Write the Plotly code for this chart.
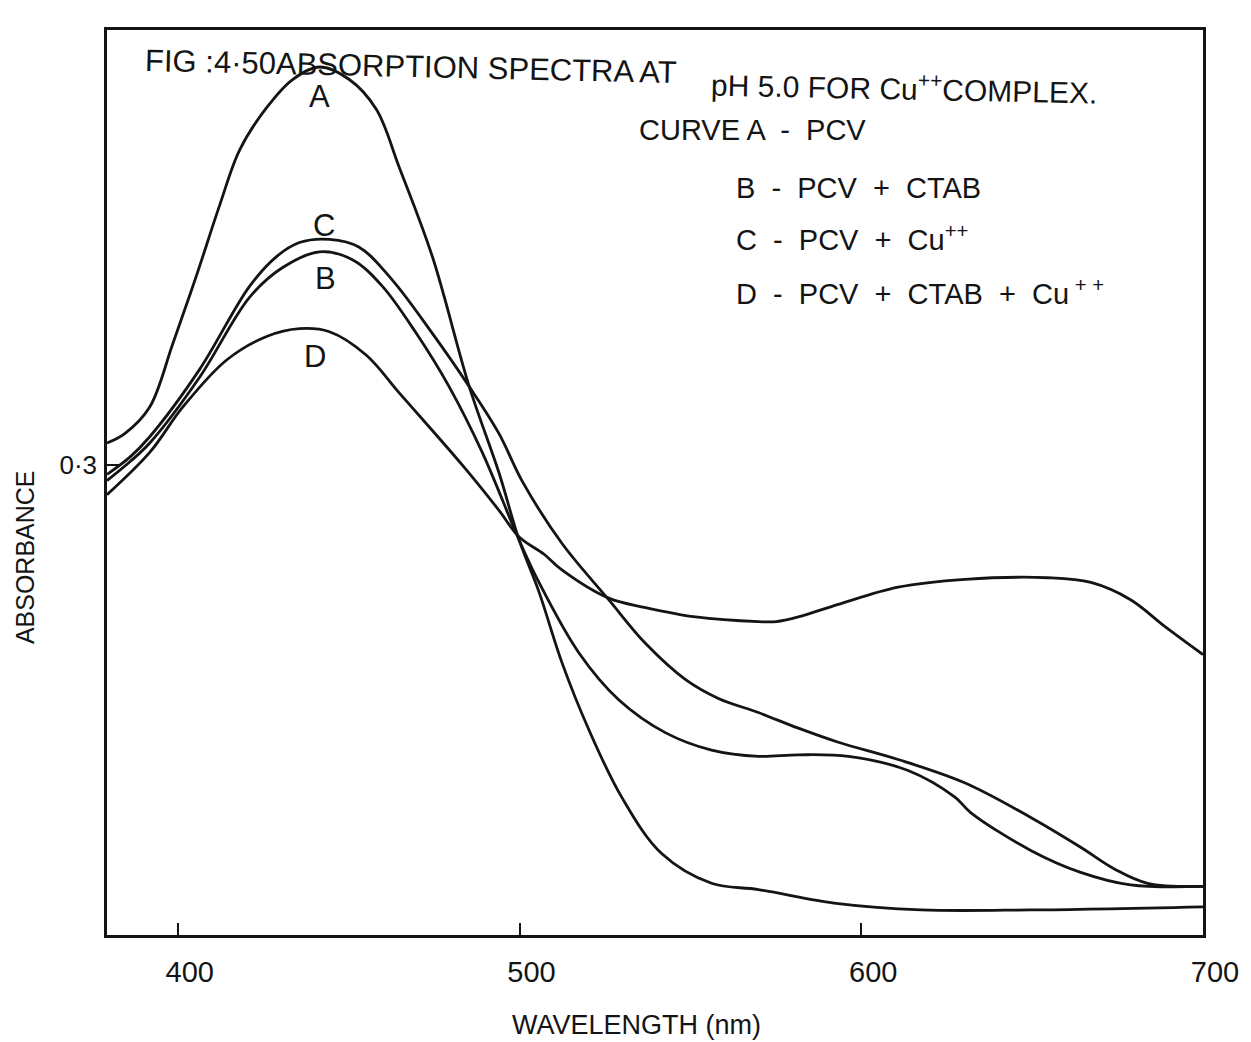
import plotly.graph_objects as go

# ---- data ----
wl_A = [379.3, 384.5, 391.8, 398.5, 405.5, 412.3, 418.1, 426.0, 433.6, 441.5, 450.2, 458.1,
        464.8, 474.5, 485.3, 494.0, 499.9, 505.7, 512.4, 520.3, 529.9, 541.6, 556.2, 569.9,
        593.3, 617.5, 649.6, 700.0]
abs_A = [0.314, 0.320, 0.337, 0.377, 0.421, 0.466, 0.501, 0.528, 0.546, 0.554, 0.546, 0.527,
         0.490, 0.433, 0.350, 0.295, 0.252, 0.219, 0.174, 0.131, 0.088, 0.052, 0.033, 0.029,
         0.020, 0.016, 0.016, 0.018]

wl_B = [379.3, 386.0, 391.8, 406.4, 421.0, 430.7, 441.5, 451.1, 459.9, 469.8, 479.4, 489.1,
        499.9, 505.7, 517.4, 529.1, 542.8, 556.2, 569.9, 581.6, 596.2, 613.7, 627.4, 632.1,
        649.6, 664.2, 678.8, 700.0]
abs_B = [0.290, 0.302, 0.314, 0.356, 0.407, 0.426, 0.436, 0.431, 0.414, 0.384, 0.350, 0.308,
         0.252, 0.225, 0.180, 0.150, 0.129, 0.118, 0.114, 0.115, 0.114, 0.105, 0.088, 0.078,
         0.054, 0.040, 0.032, 0.031]

wl_C = [379.3, 386.0, 391.8, 406.4, 421.0, 428.9, 435.6, 444.4, 453.1, 462.8, 474.5, 485.3,
        494.0, 500.7, 512.4, 526.1, 536.9, 548.6, 558.2, 569.9, 581.6, 593.3, 610.8, 630.4,
        649.6, 664.2, 674.2, 683.8, 700.0]
abs_C = [0.294, 0.305, 0.318, 0.361, 0.414, 0.433, 0.442, 0.444, 0.439, 0.418, 0.384, 0.350,
         0.320, 0.290, 0.250, 0.214, 0.186, 0.163, 0.151, 0.142, 0.132, 0.123, 0.112, 0.097,
         0.075, 0.056, 0.042, 0.033, 0.031]

wl_D = [379.3, 391.8, 401.5, 414.3, 426.0, 435.6, 444.4, 455.2, 464.8, 474.5, 484.4, 494.0,
        499.9, 507.2, 512.4, 526.1, 536.9, 551.5, 569.9, 575.2, 581.6, 593.3, 610.8, 630.4,
        654.6, 667.2, 678.8, 688.8, 700.0]
abs_D = [0.281, 0.308, 0.337, 0.367, 0.382, 0.387, 0.385, 0.370, 0.346, 0.322, 0.297, 0.271,
         0.254, 0.243, 0.233, 0.215, 0.209, 0.203, 0.200, 0.200, 0.203, 0.211, 0.222, 0.227,
         0.228, 0.225, 0.214, 0.197, 0.179]

curve_names = ["A", "B", "C", "D"]
label_wl = [441.5, 443.2, 442.9, 440.3]
label_abs = [0.535, 0.419, 0.453, 0.369]

x_ticks = [400, 500, 600, 700]
x_ticktext = ["400", "500", "600", "700"]
y_ticks = [0.3]
y_ticktext = ["0·3"]

title_part1 = "FIG :4·50ABSORPTION SPECTRA AT"
title_part2 = "pH 5.0 FOR Cu<sup>++</sup>COMPLEX."
legend_lines = [
    "CURVE A  -  PCV",
    "B  -  PCV  +  CTAB",
    "C  -  PCV  +  Cu<sup>++</sup>",
    "D  -  PCV  +  CTAB  +  Cu<sup> + +</sup>",
]

FONT = "Liberation Sans, Arial, Helvetica, sans-serif"
INK = "#141414"

fig = go.Figure()
for wl, ab in [(wl_A, abs_A), (wl_B, abs_B), (wl_C, abs_C), (wl_D, abs_D)]:
    fig.add_trace(go.Scatter(
        x=wl, y=ab, mode="lines",
        line=dict(color=INK, width=2.8, shape="spline", smoothing=1.0),
        showlegend=False, hoverinfo="skip"))

# curve letters in data coordinates
for name, xv, yv in zip(curve_names, label_wl, label_abs):
    fig.add_annotation(x=xv, y=yv, xref="x", yref="y", text=name, showarrow=False,
                       font=dict(family=FONT, size=31, color=INK))

# title (two pieces, slightly tilted like the hand lettering)
fig.add_annotation(x=0.0328, y=0.960, xref="paper", yref="paper", xanchor="left",
                   yanchor="middle", text=title_part1, showarrow=False, textangle=1.3,
                   font=dict(family=FONT, size=31, color=INK))
fig.add_annotation(x=0.549, y=0.937, xref="paper", yref="paper", xanchor="left",
                   yanchor="middle", text=title_part2, showarrow=False, textangle=1.2,
                   font=dict(family=FONT, size=30, color=INK))

# legend text lines
legend_pos = [(0.4836, 0.8895), (0.572, 0.8254), (0.572, 0.770), (0.572, 0.7105)]
for txt, (px, py) in zip(legend_lines, legend_pos):
    fig.add_annotation(x=px, y=py, xref="paper", yref="paper", xanchor="left",
                       yanchor="middle", text=txt, showarrow=False,
                       font=dict(family=FONT, size=29, color=INK))

# axis titles
fig.add_annotation(x=-0.0747, y=0.4177, xref="paper", yref="paper", xanchor="center",
                   yanchor="middle", text="ABSORBANCE", showarrow=False, textangle=-90,
                   font=dict(family=FONT, size=25, color=INK))
fig.add_annotation(x=0.4827, y=-0.0994, xref="paper", yref="paper", xanchor="center",
                   yanchor="middle", text="WAVELENGTH (nm)", showarrow=False,
                   font=dict(family=FONT, size=27, color=INK))

fig.update_xaxes(range=[379.3, 700], tickvals=x_ticks, ticktext=x_ticktext,
                 ticks="inside", ticklen=12, tickwidth=2, tickcolor=INK,
                 showline=True, linecolor=INK, linewidth=2.5, mirror=True,
                 showgrid=False, zeroline=False, ticklabelstandoff=9, ticklabelshift=12,
                 ticklabeloverflow="allow",
                 tickfont=dict(family=FONT, size=29, color=INK))
fig.update_yaxes(range=[0.0, 0.5776], tickvals=y_ticks, ticktext=y_ticktext,
                 ticks="inside", ticklen=12, tickwidth=2, tickcolor=INK,
                 showline=True, linecolor=INK, linewidth=2.5, mirror=True,
                 showgrid=False, zeroline=False, ticklabelstandoff=2,
                 tickfont=dict(family=FONT, size=26, color=INK))

# the page body keeps its default 8px margin, so the figure is sized to end at the window edge
fig.update_layout(width=1243, height=1034, paper_bgcolor="white", plot_bgcolor="white",
                  margin=dict(l=99, r=46, t=22, b=107), showlegend=False)

fig.write_html("out.html")
